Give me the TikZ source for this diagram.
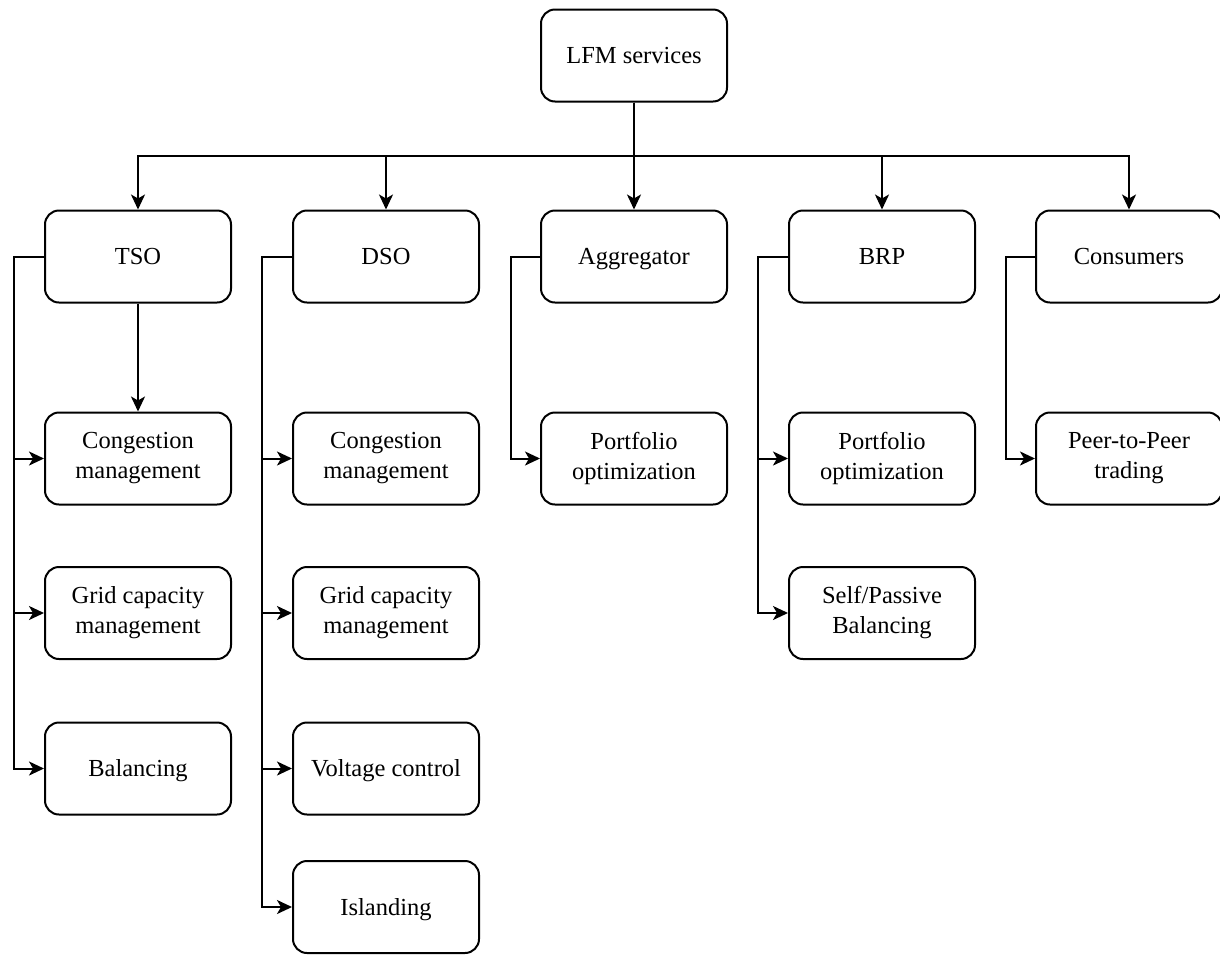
\documentclass[tikz,border=0pt]{standalone}
\usepackage{fontspec}
\setmainfont{Liberation Serif}
\usetikzlibrary{arrows.meta}
\tikzset{
  box/.style={draw, rounded corners=14pt, minimum width=186pt, minimum height=92pt, align=center, line width=2pt, font=\fontsize{24.5}{30}\selectfont, inner sep=2pt},
  one/.style={text height=16.5pt, text depth=0pt},
  arr/.style={line width=2pt, -{Stealth[length=15pt,width=14pt,inset=4pt]}},
}
\begin{document}
\begin{tikzpicture}[x=1pt,y=-1pt]
\useasboundingbox (0,0) rectangle (1220,954);
\node[box,one] (lfm) at (634,55.5) {LFM services};
\node[box,one] (tso) at (138,256.5) {TSO};
\node[box,one] (dso) at (386,256.5) {DSO};
\node[box,one] (agg) at (634,256.5) {Aggregator};
\node[box,one] (brp) at (882,256.5) {BRP};
\node[box,one] (con) at (1129,256.5) {Consumers};
% TSO children
\node[box] (t1) at (138,458.5) {Congestion\\management};
\node[box] (t2) at (138,613) {Grid capacity\\management};
\node[box,one] (t3) at (138,768.5) {Balancing};
% DSO children
\node[box] (d1) at (386,458.5) {Congestion\\management};
\node[box] (d2) at (386,613) {Grid capacity\\management};
\node[box,one] (d3) at (386,768.5) {Voltage control};
\node[box,one] (d4) at (386,907) {Islanding};
% Aggregator
\node[box] (a1) at (634,458.5) {Portfolio\\optimization};
% BRP
\node[box] (b1) at (882,458.5) {Portfolio\\optimization};
\node[box] (b2) at (882,613) {Self/Passive\\Balancing};
% Consumers
\node[box] (c1) at (1129,458.5) {Peer-to-Peer\\trading};
% bus
\coordinate (bus) at (634,156);
\draw[arr] (lfm.south) -- (bus) -| (tso.north);
\draw[arr] (lfm.south) -- (bus) -| (dso.north);
\draw[arr] (lfm.south) -- (agg.north);
\draw[arr] (lfm.south) -- (bus) -| (brp.north);
\draw[arr] (lfm.south) -- (bus) -| (con.north);
% branches
\coordinate (tx) at (14,256.5);
\coordinate (dx) at (262,256.5);
\coordinate (ax) at (511,256.5);
\coordinate (bx) at (758,256.5);
\coordinate (cx) at (1006,256.5);
\draw[arr] (tso.west) -- (tx) |- (t1.west);
\draw[arr] (tso.west) -- (tx) |- (t2.west);
\draw[arr] (tso.west) -- (tx) |- (t3.west);
\draw[arr] (tso.south) -- (t1.north);
\draw[arr] (dso.west) -- (dx) |- (d1.west);
\draw[arr] (dso.west) -- (dx) |- (d2.west);
\draw[arr] (dso.west) -- (dx) |- (d3.west);
\draw[arr] (dso.west) -- (dx) |- (d4.west);
\draw[arr] (agg.west) -- (ax) |- (a1.west);
\draw[arr] (brp.west) -- (bx) |- (b1.west);
\draw[arr] (brp.west) -- (bx) |- (b2.west);
\draw[arr] (con.west) -- (cx) |- (c1.west);
\end{tikzpicture}
\end{document}
